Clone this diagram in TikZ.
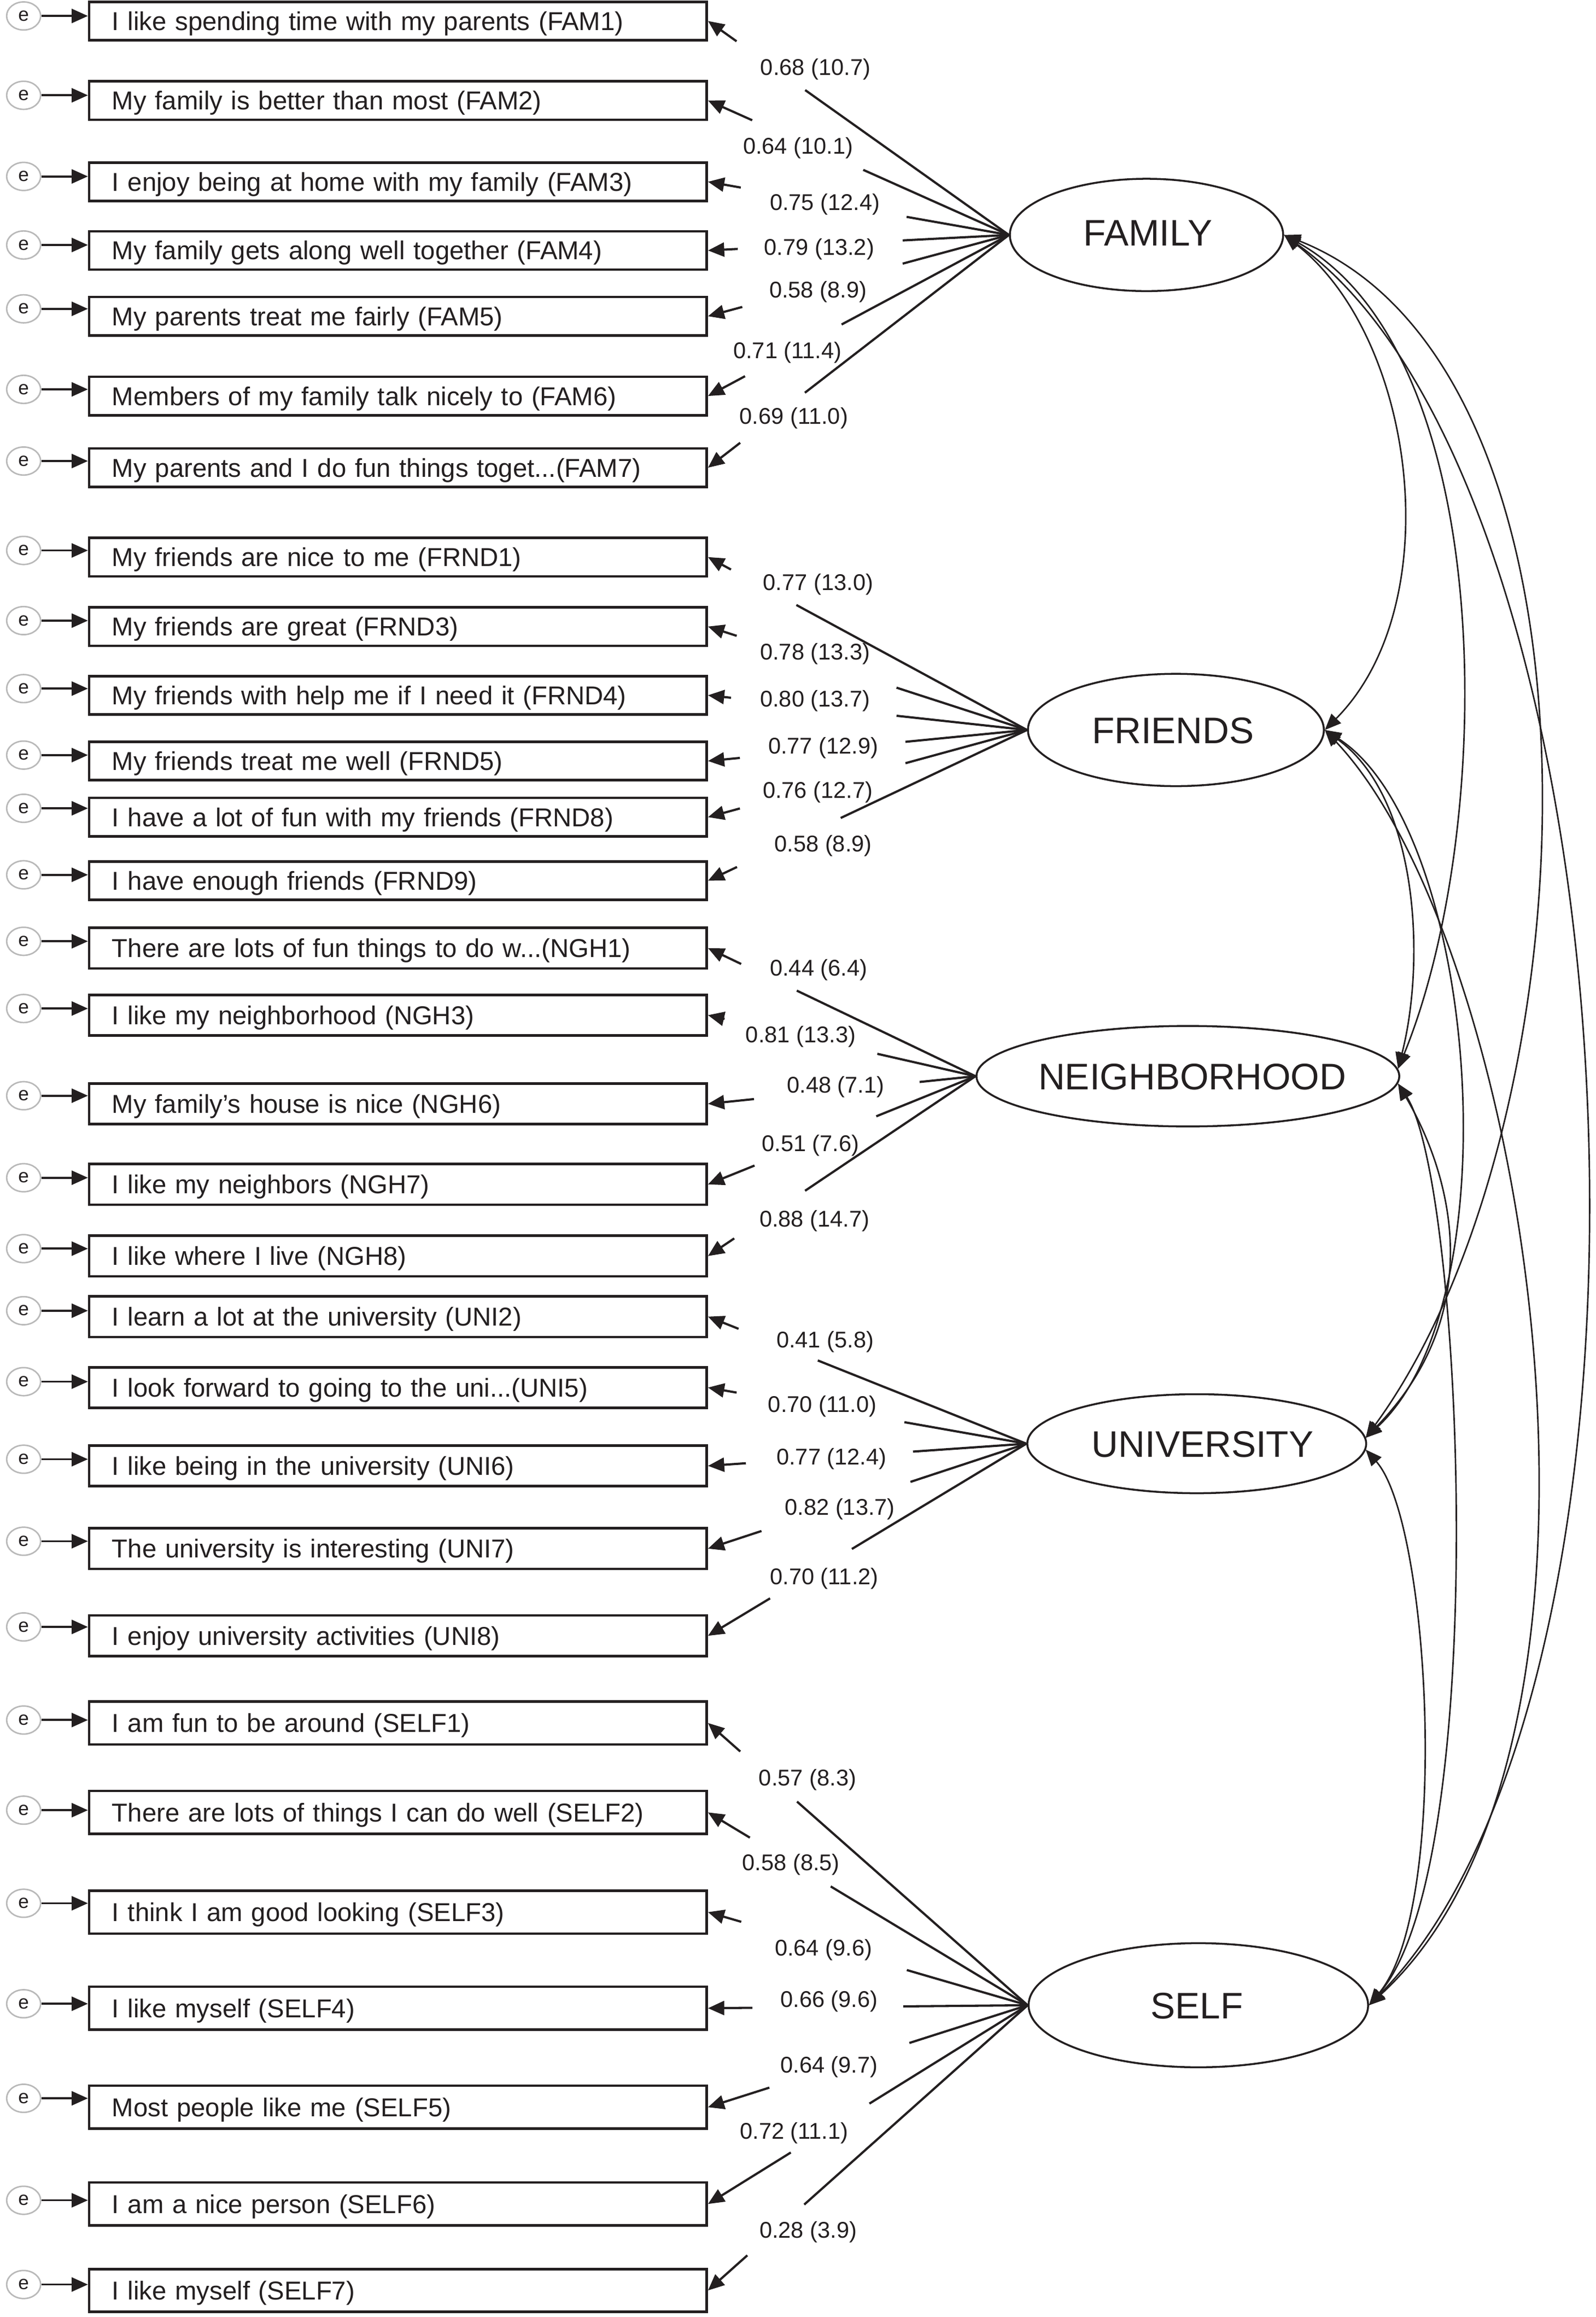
\documentclass[tikz,border=0pt]{standalone}
\usepackage{fontspec}
\setmainfont{Liberation Sans}
\usetikzlibrary{shapes.geometric,arrows.meta,calc}
\definecolor{ink}{HTML}{231F20}
\newcommand\myitem[5]{%
  \node[itembox=#4] (#1) at (59.5,#2) {#5};
  \node[errnode] (e#1) at (16,#3) {e};
  \draw[earrow] (e#1.east) -- (e#1.east -| #1.west);}
\newcommand\myload[4]{%
  \draw[load] (#1.west) -- ($(#1.west)!#3!(#2.east)$);
  \draw[loadarrow] ($(#1.west)!#4!(#2.east)$) -- (#2.east);}
\begin{document}
\begin{tikzpicture}[x=1pt,y=-1pt,
  itembox/.style={draw=ink, line width=1.7pt, fill=white, anchor=west, inner xsep=15.5pt, inner ysep=0pt,
    text width=387pt, align=left, minimum height=#1, text height=12.5pt, text depth=0pt,
    font=\fontsize{17.5}{20}\selectfont, text=ink},
  itembox/.default=26pt,
  errnode/.style={ellipse, draw=gray!55, line width=1pt, fill=white, minimum width=23pt, minimum height=19pt,
    inner sep=0pt, font=\fontsize{13}{14}\selectfont, text height=6.75pt, text depth=0pt, text=ink},
  latent/.style={ellipse, draw=ink, line width=1.3pt, inner sep=0pt, fill=white},
  lattext/.style={font=\fontsize{25}{28}\selectfont, text=ink, text height=17.9pt, text depth=0pt, inner sep=0pt},
  lab/.style={font=\fontsize{15.4}{17}\selectfont, text=ink, text height=11pt, text depth=0pt, inner sep=0pt},
  earrow/.style={draw=ink, line width=1.4pt, -{Triangle[length=11pt,width=9.5pt]}},
  load/.style={draw=ink, line width=1.5pt},
  loadarrow/.style={draw=ink, line width=1.5pt, -{Triangle[length=11pt,width=9.5pt]}},
  cov/.style={draw=ink, line width=1pt, {Triangle[length=11pt,width=9pt]}-{Triangle[length=11pt,width=9pt]}},
]
\fill[white] (0,0) rectangle (1080,1568);
\useasboundingbox (0,0) rectangle (1080,1568);

% latent variables
\node[latent, minimum width=185pt, minimum height=76pt] (fam) at (776,159) {};
\node[latent, minimum width=200.3pt, minimum height=76pt] (frnd) at (795.9,494) {};
\node[latent, minimum width=286.2pt, minimum height=68pt] (ngh) at (804,728.3) {};
\node[latent, minimum width=229.4pt, minimum height=67pt] (uni) at (810,977) {};
\node[latent, minimum width=229.8pt, minimum height=84pt] (self) at (811.1,1357) {};
\node[lattext] (famt) at ($(fam.center)+(1,-1.5)$) {FAMILY};
\node[lattext] (frndt) at ($(frnd.center)+(-2,0)$) {FRIENDS};
\node[lattext] (nght) at ($(ngh.center)+(3,0)$) {NEIGHBORHOOD};
\node[lattext] (unit) at ($(uni.center)+(4,0)$) {UNIVERSITY};
\node[lattext] (selft) at ($(self.center)+(-1,0)$) {SELF};

% observed items with error terms
\myitem{f1}{14.2}{10.8}{26pt}{I like spending time with my parents (FAM1)}
\myitem{f2}{68}{64.5}{26pt}{My family is better than most (FAM2)}
\myitem{f3}{123}{119.4}{26pt}{I enjoy being at home with my family (FAM3)}
\myitem{f4}{169.5}{165.8}{26pt}{My family gets along well together (FAM4)}
\myitem{f5}{214}{209}{26pt}{My parents treat me fairly (FAM5)}
\myitem{f6}{268}{263.5}{26pt}{Members of my family talk nicely to (FAM6)}
\myitem{f7}{316.5}{312}{26pt}{My parents and I do fun things toget...(FAM7)}
\myitem{r1}{377}{372.5}{26pt}{My friends are nice to me (FRND1)}
\myitem{r3}{424}{420}{26pt}{My friends are great (FRND3)}
\myitem{r4}{470.5}{466}{26pt}{My friends with help me if I need it (FRND4)}
\myitem{r5}{515}{511}{26pt}{My friends treat me well (FRND5)}
\myitem{r8}{553}{547}{26pt}{I have a lot of fun with my friends (FRND8)}
\myitem{r9}{596}{592}{26pt}{I have enough friends (FRND9)}
\myitem{n1}{641.6}{637}{27.5pt}{There are lots of fun things to do w...(NGH1)}
\myitem{n3}{687}{682.5}{27.5pt}{I like my neighborhood (NGH3)}
\myitem{n6}{747}{741.5}{27.5pt}{My family’s house is nice (NGH6)}
\myitem{n7}{801.5}{797}{27.5pt}{I like my neighbors (NGH7)}
\myitem{n8}{850}{845}{27.5pt}{I like where I live (NGH8)}
\myitem{u2}{891}{887}{27.5pt}{I learn a lot at the university (UNI2)}
\myitem{u5}{939}{935}{27.5pt}{I look forward to going to the uni...(UNI5)}
\myitem{u6}{992}{987.5}{27.5pt}{I like being in the university (UNI6)}
\myitem{u7}{1048}{1043}{27.5pt}{The university is interesting (UNI7)}
\myitem{u8}{1107}{1101}{27.5pt}{I enjoy university activities (UNI8)}
\myitem{s1}{1166}{1164}{29pt}{I am fun to be around (SELF1)}
\myitem{s2}{1226.5}{1225}{29pt}{There are lots of things I can do well (SELF2)}
\myitem{s3}{1294}{1288}{29pt}{I think I am good looking (SELF3)}
\myitem{s4}{1359}{1356}{29pt}{I like myself (SELF4)}
\myitem{s5}{1426}{1420}{29pt}{Most people like me (SELF5)}
\myitem{s6}{1491.5}{1489}{29pt}{I am a nice person (SELF6)}
\myitem{s7}{1550}{1546}{29pt}{I like myself (SELF7)}

% loadings (broken lines)
\myload{fam}{f1}{0.677}{0.905}
\myload{fam}{f2}{0.484}{0.853}
\myload{fam}{f3}{0.340}{0.891}
\myload{fam}{f4}{0.353}{0.901}
\myload{fam}{f5}{0.353}{0.886}
\myload{fam}{f6}{0.556}{0.877}
\myload{fam}{f7}{0.678}{0.893}
\myload{frnd}{r1}{0.723}{0.928}
\myload{frnd}{r3}{0.409}{0.910}
\myload{frnd}{r4}{0.409}{0.928}
\myload{frnd}{r5}{0.381}{0.900}
\myload{frnd}{r8}{0.381}{0.900}
\myload{frnd}{r9}{0.584}{0.909}
\myload{ngh}{n1}{0.668}{0.876}
\myload{ngh}{n3}{0.367}{0.938}
\myload{ngh}{n6}{0.209}{0.828}
\myload{ngh}{n7}{0.371}{0.826}
\myload{ngh}{n8}{0.637}{0.902}
\myload{uni}{u2}{0.655}{0.904}
\myload{uni}{u5}{0.383}{0.910}
\myload{uni}{u6}{0.356}{0.881}
\myload{uni}{u7}{0.364}{0.832}
\myload{uni}{u8}{0.548}{0.805}
\myload{self}{s1}{0.7215}{0.899}
\myload{self}{s2}{0.616}{0.869}
\myload{self}{s3}{0.378}{0.896}
\myload{self}{s4}{0.389}{0.861}
\myload{self}{s5}{0.370}{0.808}
\myload{self}{s6}{0.495}{0.741}
\myload{self}{s7}{0.699}{0.877}

% loading labels
\node[lab] (lf1) at (552,45.5) {0.68 (10.7)};
\node[lab] (lf2) at (540.2,98.8) {0.64 (10.1)};
\node[lab] (lf3) at (558.3,136.9) {0.75 (12.4)};
\node[lab] (lf4) at (554.5,167.3) {0.79 (13.2)};
\node[lab] (lf5) at (553.7,195.9) {0.58 (8.9)};
\node[lab] (lf6) at (533,237) {0.71 (11.4)};
\node[lab] (lf7) at (537.3,281.5) {0.69 (11.0)};
\node[lab] (lr1) at (553.8,393.9) {0.77 (13.0)};
\node[lab] (lr3) at (551.7,441) {0.78 (13.3)};
\node[lab] (lr4) at (551.7,472.9) {0.80 (13.7)};
\node[lab] (lr5) at (557.2,504.8) {0.77 (12.9)};
\node[lab] (lr8) at (553.5,534.7) {0.76 (12.7)};
\node[lab] (lr9) at (557.2,570.9) {0.58 (8.9)};
\node[lab] (ln1) at (554.1,654.8) {0.44 (6.4)};
\node[lab] (ln3) at (542,699.9) {0.81 (13.3)};
\node[lab] (ln6) at (565.6,733.9) {0.48 (7.1)};
\node[lab] (ln7) at (548.6,773.8) {0.51 (7.6)};
\node[lab] (ln8) at (551.3,824.8) {0.88 (14.7)};
\node[lab] (lu2) at (558.5,906.5) {0.41 (5.8)};
\node[lab] (lu5) at (556.6,950.2) {0.70 (11.0)};
\node[lab] (lu6) at (562.8,985.9) {0.77 (12.4)};
\node[lab] (lu7) at (568.5,1019.9) {0.82 (13.7)};
\node[lab] (lu8) at (557.9,1066.6) {0.70 (11.2)};
\node[lab] (ls1) at (546.6,1203.1) {0.57 (8.3)};
\node[lab] (ls2) at (535.4,1260.5) {0.58 (8.5)};
\node[lab] (ls3) at (557.4,1317.9) {0.64 (9.6)};
\node[lab] (ls4) at (561.2,1352.9) {0.66 (9.6)};
\node[lab] (ls5) at (561.2,1397.1) {0.64 (9.7)};
\node[lab] (ls6) at (537.5,1442.2) {0.72 (11.1)};
\node[lab] (ls7) at (547,1509.1) {0.28 (3.9)};

% covariances
\draw[cov] (fam.east) .. controls (958.5,229) and (981,409) .. (frnd.east);
\draw[cov] (fam.east) .. controls (1015,240) and (1013,560) .. ($(ngh.east)+(-1.5,-5)$);
\draw[cov] (fam.east) .. controls (1100,250) and (1080,760) .. ($(uni.east)+(-1,-4)$);
\draw[cov] (fam.east) .. controls (1110,330) and (1150,1130) .. (self.east);
\draw[cov] (frnd.east) .. controls (960,540) and (965,650) .. ($(ngh.east)+(-1.5,-5)$);
\draw[cov] (frnd.east) .. controls (1000,560) and (1025,880) .. ($(uni.east)+(-1,-4)$);
\draw[cov] (frnd.east) .. controls (1035,640) and (1120,1180) .. (self.east);
\draw[cov] ($(ngh.east)+(-1.5,5)$) .. controls (985,800) and (1005,890) .. ($(uni.east)+(-1,-4)$);
\draw[cov] ($(ngh.east)+(-1.5,5)$) .. controls (990,800) and (1010,1260) .. (self.east);
\draw[cov] ($(uni.east)+(-1,4)$) .. controls (968,1030) and (982,1290) .. (self.east);
\end{tikzpicture}
\end{document}
